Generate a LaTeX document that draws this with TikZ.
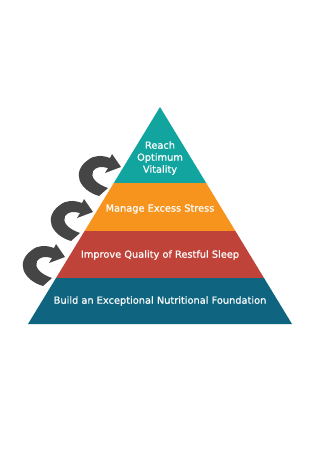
\documentclass[tikz,border=0pt]{standalone}
\usepackage{fontspec}
\setmainfont{DejaVu Sans}
\newfontfamily\lblfont{DejaVu Sans}[FakeBold=0.6]
\definecolor{cteal}{HTML}{12A5A0}
\definecolor{corange}{HTML}{F7941E}
\definecolor{cred}{HTML}{C0433A}
\definecolor{cblue}{HTML}{0F6580}
\definecolor{carrow}{HTML}{454545}
\begin{document}
\begin{tikzpicture}[x=1pt,y=-1pt,
  lbl/.style={text=white,font=\lblfont\fontsize{9.8}{12}\selectfont,align=center,inner sep=0pt},
  cyclearrow/.pic={
    \fill[carrow] (-21,29) .. controls (-41,23) and (-49,5) .. (-32,-7)
      .. controls (-26,-12) and (-18,-12) .. (-10,-9)
      -- (-8,-13) -- (1,0) -- (-15,6) -- (-12,1)
      .. controls (-19,-1) and (-24,0) .. (-27,4)
      .. controls (-30,10) and (-24,17) .. (-12,21) -- cycle;
  }]
\useasboundingbox (0,0) rectangle (320,450);
\coordinate (apex) at (160,107);
% bands
\fill[cteal] (160,107) -- (113.8,183) -- (206.2,183) -- cycle;
\fill[corange] (113.8,183) -- (84.6,231) -- (235.4,231) -- (206.2,183) -- cycle;
\fill[cred] (84.6,231) -- (56,278) -- (264,278) -- (235.4,231) -- cycle;
\fill[cblue] (56,278) -- (28,324) -- (292,324) -- (264,278) -- cycle;
% labels
\node[lbl] (t1) at (160,158) {Reach\\Optimum\\Vitality};
\node[lbl] (t2) at (160,209) {Manage Excess Stress};
\node[lbl] (t3) at (160,255) {Improve Quality of Restful Sleep};
\node[lbl] (t4) at (160,301) {Build an Exceptional Nutritional Foundation};
% arrows
\pic at (120,167) {cyclearrow};
\pic at (92,212) {cyclearrow};
\pic at (64,257) {cyclearrow};
\end{tikzpicture}
\end{document}
